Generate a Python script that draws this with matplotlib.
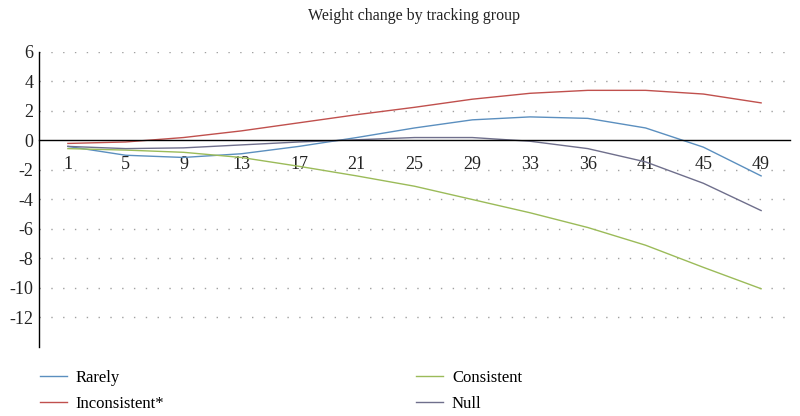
import matplotlib
matplotlib.use("Agg")
import matplotlib.pyplot as plt

categories = ["1", "5", "9", "13", "17", "21", "25", "29", "33", "36", "41", "45", "49"]
rarely = [-0.4, -1.0, -1.15, -0.9, -0.4, 0.2, 0.85, 1.4, 1.6, 1.5, 0.85, -0.45, -2.4]
inconsistent = [-0.2, -0.1, 0.2, 0.65, 1.2, 1.75, 2.25, 2.8, 3.2, 3.4, 3.4, 3.15, 2.55]
consistent = [-0.55, -0.65, -0.8, -1.15, -1.75, -2.4, -3.1, -4.0, -4.9, -5.9, -7.1, -8.6, -10.05]
null = [-0.4, -0.55, -0.5, -0.3, -0.1, 0.05, 0.2, 0.2, -0.05, -0.55, -1.45, -2.9, -4.75]
yticks = [-12, -10, -8, -6, -4, -2, 0, 2, 4, 6]

plt.rcParams['font.family'] = ['Liberation Serif', 'DejaVu Serif']

fig = plt.figure(figsize=(8, 4.16), dpi=100)
ax = fig.add_axes([0.04875, 0.1659, 0.93875, 0.7091])

x = list(range(len(categories)))
l1, = ax.plot(x, rarely, color='#5b8fbf', lw=1.0, label='Rarely')
l2, = ax.plot(x, inconsistent, color='#c0504d', lw=1.0, label='Inconsistent*')
l3, = ax.plot(x, consistent, color='#9bbb59', lw=1.0, label='Consistent')
l4, = ax.plot(x, null, color='#6f6f8c', lw=1.0, label='Null')

ax.set_xlim(-0.5, len(categories) - 0.5)
ax.set_ylim(-14, 6)
ax.set_yticks(yticks)
ax.set_yticklabels([str(v) for v in yticks])
ax.set_xticks(x)
ax.set_xticklabels(categories)

for v in yticks:
    if v != 0:
        ax.axhline(v, color='#a0a0a0', lw=1.0, linestyle=(0, (1, 7.5)), zorder=0)

for s in ['top', 'right']:
    ax.spines[s].set_visible(False)
ax.spines['bottom'].set_position(('data', 0))
ax.spines['bottom'].set_color('black')
ax.spines['left'].set_color('black')
ax.spines['bottom'].set_linewidth(1.0)
ax.spines['left'].set_linewidth(1.0)
ax.tick_params(axis='both', length=0, labelsize=13, colors='#222222')
ax.tick_params(axis='x', pad=11)
ax.tick_params(axis='y', pad=4)

fig.text(0.517, 0.962, 'Weight change by tracking group', ha='center', va='center', fontsize=11.5, color='#222222')

fig.legend(handles=[l1, l2, l3, l4], ncol=2, loc='upper left',
           bbox_to_anchor=(0.05, 0.11), frameon=False, fontsize=12,
           handlelength=1.6, handletextpad=0.55, columnspacing=15.1,
           labelspacing=0.6, borderaxespad=0, borderpad=0)

fig.savefig('out.png', dpi=100)
